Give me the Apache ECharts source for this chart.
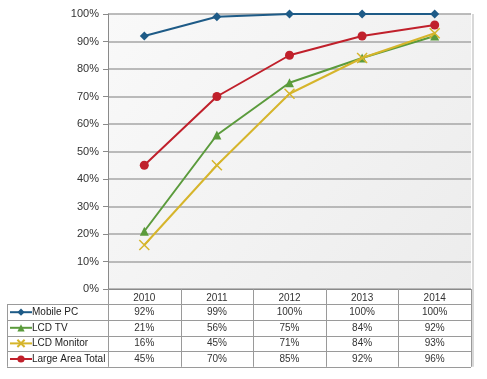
<!DOCTYPE html>
<html><head><meta charset="utf-8">
<script src="https://cdn.jsdelivr.net/npm/echarts@6/dist/echarts.min.js"></script>
<style>html,body{margin:0;padding:0;background:#fff}#c{width:487px;height:379px}</style>
</head><body><div id="c"></div>
<script>
var categories = ['2010','2011','2012','2013','2014'];
var seriesNames = ['Mobile PC','LCD TV','LCD Monitor','Large Area Total'];
var mobilePC = [92, 99, 100, 100, 100];
var lcdTV = [21, 56, 75, 84, 92];
var lcdMonitor = [16, 45, 71, 84, 93];
var largeAreaTotal = [45, 70, 85, 92, 96];
var yTicks = [0,10,20,30,40,50,60,70,80,90,100];

var allData = [mobilePC, lcdTV, lcdMonitor, largeAreaTotal];
var colors = ['#1e5b87','#5b9b3c','#d6b52b','#c0202b'];
var symbols = ['diamond','triangle','path://M0,0L10,10M10,0L0,10','circle'];
var sizes = [9,9,10,9];
var FONT = 'Liberation Sans';

var chart = echarts.init(document.getElementById('c'));
var GL=108, GR=16, GT=14, GB=90;
var series = seriesNames.map(function(n,i){
  var isX = i===2;
  return {
    name:n, type:'line', data:allData[i], symbol:symbols[i], symbolSize:sizes[i],
    lineStyle:{color:colors[i], width:2},
    itemStyle: isX ? {color:'rgba(0,0,0,0)', borderColor:colors[i], borderWidth:1.5} : {color:colors[i]},
    z: 3+i
  };
});
var option = {
  backgroundColor:'#fff',
  animation:false,
  grid:{left:GL,right:GR,top:GT,bottom:GB,show:true,borderWidth:0,
    backgroundColor:new echarts.graphic.LinearGradient(0,0,1,1,[{offset:0,color:'#f9f9f9'},{offset:1,color:'#ececec'}])},
  xAxis:{type:'category',data:categories,boundaryGap:true,
    axisLine:{lineStyle:{color:'#8a8a8a',width:1}},
    axisTick:{show:false},
    axisLabel:{color:'#333',fontFamily:FONT,fontSize:10,margin:4}},
  yAxis:{type:'value',min:yTicks[0],max:yTicks[yTicks.length-1],interval:10,
    axisLine:{show:true,lineStyle:{color:'#8a8a8a'}},
    axisTick:{show:true,length:5,lineStyle:{color:'#8a8a8a'}},
    axisLabel:{color:'#333',fontFamily:FONT,fontSize:11,margin:9,formatter:'{value}%'},
    splitLine:{lineStyle:{color:'#a6a6a6',width:1.5}}},
  series:series
};
chart.setOption(option);

// build table
var x0 = GL, x1 = 487-GR;
var yBase = 379-GB;
var rowH = 15.6;
var headerH = 15.4;
var tableLeft = 7;
var g = [];
var catW = (x1-x0)/categories.length;
var lineC = '#9a9a9a';
// right shadow strip
g.push({type:'rect',shape:{x:x1+1,y:GT,width:2,height:yBase-GT+headerH+rowH*4},style:{fill:'#d8d8d8'},z:9});
// vertical lines
for (var k=0;k<=categories.length;k++){
  var vx = Math.round(x0 + k*catW)+0.5;
  g.push({type:'line',shape:{x1:vx,y1:yBase,x2:vx,y2:yBase+headerH+rowH*4},style:{stroke:lineC,lineWidth:1},z:10});
}
// left border
g.push({type:'line',shape:{x1:tableLeft+0.5,y1:yBase+headerH,x2:tableLeft+0.5,y2:yBase+headerH+rowH*4},style:{stroke:lineC,lineWidth:1},z:10});
// horizontal lines
for (var r=0;r<=4;r++){
  var hy = Math.round(yBase+headerH+r*rowH)+0.5;
  g.push({type:'line',shape:{x1:tableLeft,y1:hy,x2:x1,y2:hy},style:{stroke:lineC,lineWidth:1},z:10});
}
// cell values
var legends = [];
for (var r=0;r<4;r++){
  var cy = yBase+headerH+r*rowH+rowH/2;
  for (var c=0;c<categories.length;c++){
    var cx = chart.convertToPixel({xAxisIndex:0}, categories[c]);
    g.push({type:'text',x:cx,y:cy,style:{text:allData[r][c]+'%',fill:'#333',font:'10px '+FONT,align:'center',verticalAlign:'middle'},z:11});
  }
  legends.push({data:[seriesNames[r]],left:tableLeft+2,top:cy-5,itemWidth:22,itemHeight:9,itemGap:0,padding:0,
    textStyle:{color:'#222',fontFamily:FONT,fontSize:10,padding:[0,0,0,-5]},selectedMode:false});
}
chart.setOption({graphic:g, legend:legends});
</script></body></html>
